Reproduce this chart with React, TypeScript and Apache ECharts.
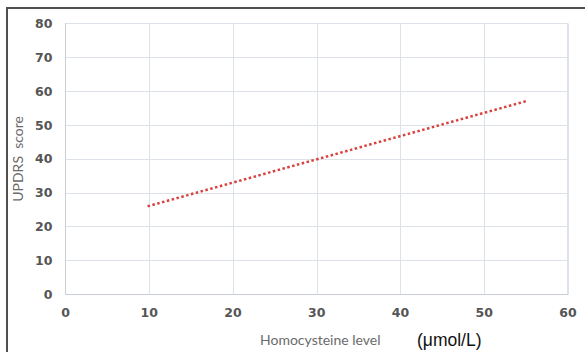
import React, { useEffect, useRef } from "react";
import * as echarts from "echarts";

const lineX = [9.8, 55.2];
const lineY = [26, 57.2];
const xTicks = [0, 10, 20, 30, 40, 50, 60];
const yTicks = [0, 10, 20, 30, 40, 50, 60, 70, 80];
const xName = "Homocysteine level";
const xUnit = "(μmol/L)";
const yName = "UPDRS  score";

export default function App() {
  const ref = useRef<HTMLDivElement>(null);
  useEffect(() => {
    if (!ref.current) return;
    const chart = echarts.init(ref.current, null, { renderer: "svg" });
    const labelStyle = {
      color: "#555555",
      fontSize: 12.5,
      fontFamily: "DejaVu Sans",
      fontWeight: "bold" as const,
    };
    chart.setOption({
      animation: false,
      backgroundColor: "#fff",
      grid: { left: 65.5, right: 17, top: 23.5, bottom: 57.7, containLabel: false },
      xAxis: {
        type: "value",
        min: xTicks[0],
        max: xTicks[xTicks.length - 1],
        interval: 10,
        axisLine: { show: true, lineStyle: { color: "#c9ced6", width: 1 } },
        axisTick: { show: false },
        axisLabel: { ...labelStyle, margin: 12 },
        splitLine: { show: true, lineStyle: { color: "#dde2e8", width: 1 } },
        name: xName,
        nameLocation: "middle",
        nameGap: 38,
        nameTextStyle: {
          color: "#6b6b6b",
          fontSize: 14,
          fontFamily: "Lato",
          padding: [0, 0, 0, 7],
        },
      },
      yAxis: {
        type: "value",
        min: yTicks[0],
        max: yTicks[yTicks.length - 1],
        interval: 10,
        axisLine: { show: true, lineStyle: { color: "#c9ced6", width: 1 } },
        axisTick: { show: false },
        axisLabel: { ...labelStyle, margin: 13 },
        splitLine: { show: true, lineStyle: { color: "#dde2e8", width: 1 } },
        name: yName,
        nameLocation: "middle",
        nameGap: 38,
        nameRotate: 90,
        nameTextStyle: {
          color: "#6b6b6b",
          fontSize: 14,
          fontFamily: "Lato",
        },
      },
      graphic: [
        {
          type: "polyline",
          shape: { points: [[7, 352], [7, 8], [585, 8]] },
          style: { stroke: "#505050", lineWidth: 2, fill: null },
          z: 100,
        },
        {
          type: "rect",
          shape: { x: 567, y: 23, width: 1, height: 272 },
          style: { fill: "#dde2e8" },
        },
        {
          type: "text",
          x: 417,
          y: 340,
          style: {
            text: xUnit,
            fill: "#111",
            font: "17.5px 'Liberation Sans', Arial, sans-serif",
            textVerticalAlign: "middle",
          },
        },
      ],
      series: [
        {
          type: "line",
          data: lineX.map((x, i) => [x, lineY[i]]),
          showSymbol: false,
          symbol: "none",
          lineStyle: { color: "#d9413e", width: 2.5, type: [2.5, 2.5], cap: "butt" },
        },
      ],
    });
    return () => chart.dispose();
  }, []);
  return (
    <div
      ref={ref}
      style={{ position: "fixed", left: 0, top: 0, width: 585, height: 352 }}
    />
  );
}
